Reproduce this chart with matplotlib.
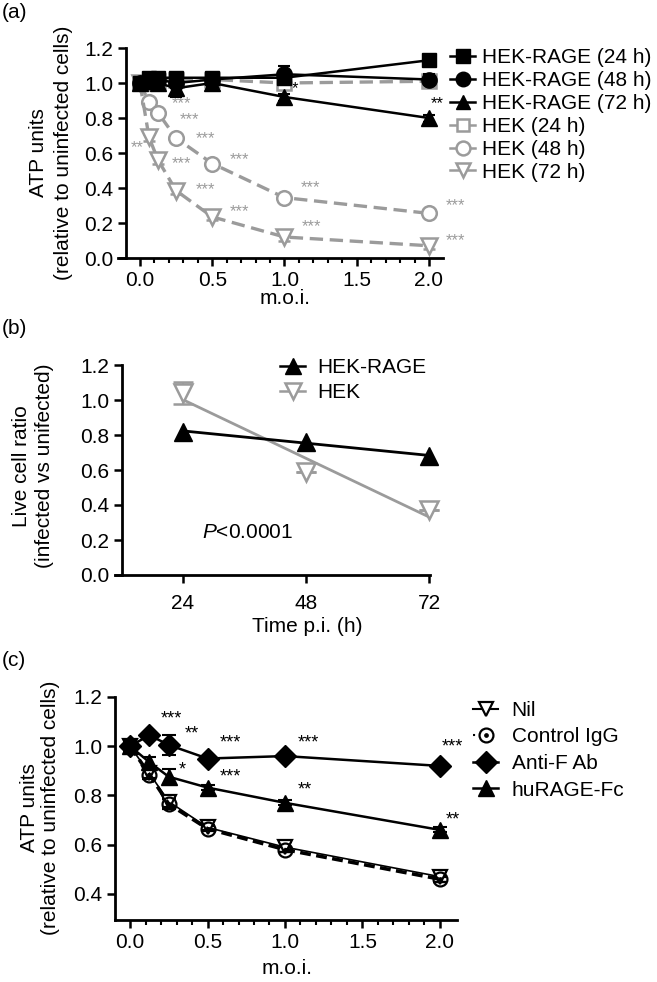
import numpy as np
import matplotlib
matplotlib.use("Agg")
import matplotlib.pyplot as plt
from matplotlib.lines import Line2D
from matplotlib.legend_handler import HandlerTuple

plt.rcParams['font.family'] = ['Liberation Sans', 'DejaVu Sans']
plt.rcParams['mathtext.fontset'] = 'custom'
plt.rcParams['mathtext.it'] = 'Liberation Sans:italic'
plt.rcParams['mathtext.rm'] = 'Liberation Sans'

# ---------------- Data: panel (a) ----------------
moi_a = [0, 0.0625, 0.125, 0.25, 0.5, 1.0, 2.0]
rage24 = [1.00, 1.03, 1.03, 1.03, 1.03, 1.03, 1.13]
rage24_err = [0.02, 0.02, 0.02, 0.02, 0.02, 0.02, 0.02]
rage48 = [1.00, 1.02, 1.02, 1.00, 1.02, 1.05, 1.02]
rage48_err = [0.02, 0.02, 0.03, 0.03, 0.02, 0.05, 0.03]
rage72 = [1.00, 1.01, 1.00, 0.97, 1.00, 0.92, 0.80]
rage72_err = [0.02, 0.02, 0.02, 0.05, 0.02, 0.02, 0.02]
hek24 = [1.00, 1.00, 1.01, 1.02, 1.02, 1.00, 1.01]
hek24_err = [0.02, 0.02, 0.02, 0.02, 0.02, 0.02, 0.03]
hek48 = [1.00, 0.89, 0.83, 0.685, 0.54, 0.345, 0.255]
hek48_err = [0.02, 0.02, 0.02, 0.02, 0.02, 0.02, 0.02]
hek72 = [1.00, 0.69, 0.56, 0.385, 0.235, 0.12, 0.07]
hek72_err = [0.02, 0.02, 0.02, 0.02, 0.02, 0.02, 0.02]
labels_a = ['HEK-RAGE (24 h)', 'HEK-RAGE (48 h)', 'HEK-RAGE (72 h)',
            'HEK (24 h)', 'HEK (48 h)', 'HEK (72 h)']
# significance marks (x, y, text, colour group)
stars_a = [(0.29, 0.885, '***', 'g'), (0.34, 0.79, '***', 'g'), (0.45, 0.685, '***', 'g'),
           (0.69, 0.56, '***', 'g'), (1.18, 0.405, '***', 'g'), (-0.02, 0.63, '**', 'g'),
           (0.29, 0.54, '***', 'g'), (0.45, 0.39, '***', 'g'), (0.69, 0.263, '***', 'g'),
           (1.19, 0.177, '***', 'g'), (2.18, 0.30, '***', 'g'), (2.18, 0.10, '***', 'g'),
           (1.07, 0.97, '*', 'k'), (2.06, 0.885, '**', 'k')]

# ---------------- Data: panel (b) ----------------
time_b = [24, 48, 72]
rage_b = [0.82, 0.76, 0.68]
hek_b = [1.04, 0.59, 0.37]
hek_b_err = [0.065, 0.0, 0.0]
labels_b = ['HEK-RAGE', 'HEK']

# ---------------- Data: panel (c) ----------------
moi_c = [0, 0.125, 0.25, 0.5, 1.0, 2.0]
nil_c = [1.00, 0.89, 0.775, 0.67, 0.59, 0.47]
nil_err = [0.02, 0.02, 0.02, 0.01, 0.02, 0.02]
igg_c = [1.00, 0.885, 0.765, 0.665, 0.58, 0.46]
igg_err = [0.02, 0.02, 0.02, 0.01, 0.01, 0.01]
antif_c = [1.00, 1.045, 1.005, 0.95, 0.96, 0.92]
antif_err = [0.02, 0.01, 0.04, 0.01, 0.01, 0.01]
rage_c = [1.00, 0.935, 0.876, 0.832, 0.77, 0.66]
rage_c_err = [0.02, 0.02, 0.03, 0.01, 0.01, 0.01]
labels_c = ['Nil', 'Control IgG', 'Anti-F Ab', 'huRAGE-Fc']
stars_c = [(0.27, 1.11, '***'), (0.40, 1.05, '**'), (0.645, 1.013, '***'),
           (1.15, 1.013, '***'), (2.08, 0.997, '***'), (0.335, 0.903, '*'),
           (0.645, 0.876, '***'), (1.13, 0.822, '**'), (2.08, 0.70, '**')]

W, H = 657, 982
fig = plt.figure(figsize=(W / 100, H / 100), dpi=100)
GRAY = '#9b9b9b'
FS = 15


def px_axes(l, t, r, b):
    return fig.add_axes([l / W, 1 - b / H, (r - l) / W, (b - t) / H])


def style(ax, leftpos):
    for s in ('top', 'right'):
        ax.spines[s].set_visible(False)
    for s in ('left', 'bottom'):
        ax.spines[s].set_linewidth(2.0)
    ax.spines['left'].set_position(('data', leftpos))
    ax.tick_params(which='major', direction='out', length=6, width=1.8,
                   labelsize=FS, pad=3)
    ax.tick_params(which='minor', direction='out', length=3.5, width=1.5)


# ================= panel (a) =================
axa = px_axes(118, 48, 443, 258)
axa.set_xlim(-0.152, 2.097)
axa.set_ylim(0, 1.2)
style(axa, -0.097)
axa.set_xticks([0, 0.5, 1.0, 1.5, 2.0])
axa.set_xticks(np.arange(0, 2.05, 0.1), minor=True)
axa.set_yticks(np.arange(0, 1.21, 0.2))
axa.xaxis.set_major_formatter(matplotlib.ticker.FormatStrFormatter('%.1f'))
axa.yaxis.set_major_formatter(matplotlib.ticker.FormatStrFormatter('%.1f'))

gray_series = [(hek24, hek24_err, 's', 9.5), (hek48, hek48_err, 'o', 10.5),
               (hek72, hek72_err, 'v', 11)]
black_series = [(rage24, rage24_err, 's', 10.5), (rage48, rage48_err, 'o', 11),
                (rage72, rage72_err, '^', 11)]
handles_a = []
for ys, es, m, ms in black_series:
    axa.errorbar(moi_a, ys, yerr=es, color='black', lw=1.8, marker=m, ms=ms,
                 mfc='black', mec='black', capsize=4, elinewidth=1.5,
                 capthick=1.5, zorder=5, clip_on=False)
for ys, es, m, ms in gray_series:
    axa.errorbar(moi_a, ys, yerr=es, color=GRAY, lw=2.4, ls=(0, (4, 2)), marker=m,
                 ms=ms, mfc='white', mec=GRAY, mew=1.8, capsize=4, elinewidth=1.5,
                 capthick=1.5, zorder=3, clip_on=False)
for (ys, es, m, ms) in black_series:
    handles_a.append(Line2D([], [], color='black', lw=1.8, marker=m, ms=ms * 0.95))
for (ys, es, m, ms) in gray_series:
    handles_a.append(Line2D([], [], color=GRAY, lw=1.8, marker=m, ms=ms * 0.95,
                            mfc='white', mec=GRAY, mew=1.8))
for x, y, t, c in stars_a:
    axa.text(x, y, t, color=GRAY if c == 'g' else 'black', fontsize=12,
             ha='center', va='center', clip_on=False)

fig.legend(handles_a, labels_a, loc='upper left', bbox_to_anchor=(450 / W, 1 - 48 / H),
           frameon=False, borderpad=0, borderaxespad=0, handlelength=1.2,
           handletextpad=0.35, labelspacing=0.19, fontsize=15)

fig.text(51 / W, 1 - 153 / H, 'ATP units\n(relative to uninfected cells)', rotation=90,
         ha='center', va='center', multialignment='center', fontsize=FS, linespacing=1.4)
fig.text(285 / W, 1 - 299 / H, 'm.o.i.', ha='center', va='center', fontsize=FS)
fig.text(2 / W, 1 - 12 / H, '(a)', ha='left', va='center', fontsize=FS)

# ================= panel (b) =================
axb = px_axes(115, 365, 430, 575)
axb.set_xlim(10.73, 72.2)
axb.set_ylim(0, 1.2)
style(axb, 12.1)
axb.set_xticks(time_b)
axb.set_yticks(np.arange(0, 1.21, 0.2))
axb.yaxis.set_major_formatter(matplotlib.ticker.FormatStrFormatter('%.1f'))
axb.tick_params(axis='x', pad=8)

tt = np.array(time_b, dtype=float)
for ys, col in [(hek_b, GRAY), (rage_b, 'black')]:
    k, c0 = np.polyfit(tt, ys, 1)
    axb.plot(tt, k * tt + c0, color=col, lw=2.0, zorder=3)
axb.errorbar(time_b, hek_b, yerr=hek_b_err, ls='none', marker='v', ms=12.5, mfc='white',
             mec=GRAY, mew=1.8, ecolor=GRAY, capsize=7, elinewidth=1.5, capthick=1.8,
             zorder=4, clip_on=False)
axb.plot(time_b, rage_b, ls='none', marker='^', ms=12.5, color='black', zorder=5,
         clip_on=False)
handles_b = [Line2D([], [], color='black', lw=1.8, marker='^', ms=12),
             Line2D([], [], color=GRAY, lw=1.8, marker='v', ms=12, mfc='white',
                    mec=GRAY, mew=1.8)]
fig.legend(handles_b, labels_b, loc='upper left', bbox_to_anchor=(280 / W, 1 - 358 / H),
           frameon=False, borderpad=0, borderaxespad=0, handlelength=1.2,
           handletextpad=0.6, labelspacing=0.28, fontsize=FS)
axb.text(36.5, 0.24, '$P$<0.0001', ha='center', va='center', fontsize=FS)
fig.text(33 / W, 1 - 466 / H, 'Live cell ratio\n(infected vs unifected)', rotation=90,
         ha='center', va='center', multialignment='center', fontsize=FS, linespacing=1.25)
fig.text(307 / W, 1 - 627 / H, 'Time p.i. (h)', ha='center', va='center', fontsize=FS)
fig.text(2 / W, 1 - 328 / H, '(b)', ha='left', va='center', fontsize=FS)

# ================= panel (c) =================
axc = px_axes(115, 697, 457, 920)
axc.set_xlim(-0.097, 2.11)
axc.set_ylim(0.294, 1.2)
style(axc, -0.097)
axc.set_xticks([0, 0.5, 1.0, 1.5, 2.0])
axc.set_xticks(np.arange(0, 2.05, 0.1), minor=True)
axc.set_yticks(np.arange(0.4, 1.21, 0.2))
axc.xaxis.set_major_formatter(matplotlib.ticker.FormatStrFormatter('%.1f'))
axc.yaxis.set_major_formatter(matplotlib.ticker.FormatStrFormatter('%.1f'))

eb = dict(capsize=5, elinewidth=1.5, capthick=1.5, clip_on=False)
axc.errorbar(moi_c, nil_c, yerr=nil_err, color='black', lw=1.2, marker='v',
             ms=10, mfc='white', mec='black', mew=1.6, zorder=4, **eb)
axc.errorbar(moi_c, igg_c, yerr=igg_err, color='black', lw=2.6, ls=(0, (3, 1.5)),
             marker='o', ms=10, mfc='none', mec='black', mew=1.6, zorder=4, **eb)
axc.plot(moi_c, igg_c, ls='none', marker='o', ms=2.4, color='black', zorder=6,
         clip_on=False)
axc.errorbar(moi_c, antif_c, yerr=antif_err, color='black', lw=1.8, marker='D', ms=11.5,
             mfc='black', mec='black', zorder=5, **eb)
axc.errorbar(moi_c, rage_c, yerr=rage_c_err, color='black', lw=1.8, marker='^', ms=11.5,
             mfc='black', mec='black', zorder=5, **eb)
for x, y, t in stars_c:
    axc.text(x, y, t, color='black', fontsize=13, ha='center', va='center', clip_on=False)

hc_nil = Line2D([], [], color='black', lw=1.5, marker='v', ms=10, mfc='white', mew=1.6)
hc_igg = Line2D([], [], color='black', lw=1.5, ls=(0, (1, 3)), marker='o', ms=10,
                mfc='white', mew=1.6)
hc_dot = Line2D([], [], ls='none', marker='o', ms=2.4, color='black')
hc_af = Line2D([], [], color='black', lw=1.8, marker='D', ms=11)
hc_rg = Line2D([], [], color='black', lw=1.8, marker='^', ms=11)
fig.legend([hc_nil, (hc_igg, hc_dot), hc_af, hc_rg], labels_c, loc='upper left',
           bbox_to_anchor=(473 / W, 1 - 701 / H), frameon=False, borderpad=0,
           borderaxespad=0, handlelength=1.2, handletextpad=0.65, labelspacing=0.36,
           fontsize=FS, handler_map={tuple: HandlerTuple(ndivide=1)})

fig.text(40 / W, 1 - 808 / H, 'ATP units\n(relative to uninfected cells)', rotation=90,
         ha='center', va='center', multialignment='center', fontsize=FS, linespacing=1.15)
fig.text(287 / W, 1 - 968 / H, 'm.o.i.', ha='center', va='center', fontsize=FS)
fig.text(2 / W, 1 - 660 / H, '(c)', ha='left', va='center', fontsize=FS)

fig.savefig('out.png', dpi=100)
